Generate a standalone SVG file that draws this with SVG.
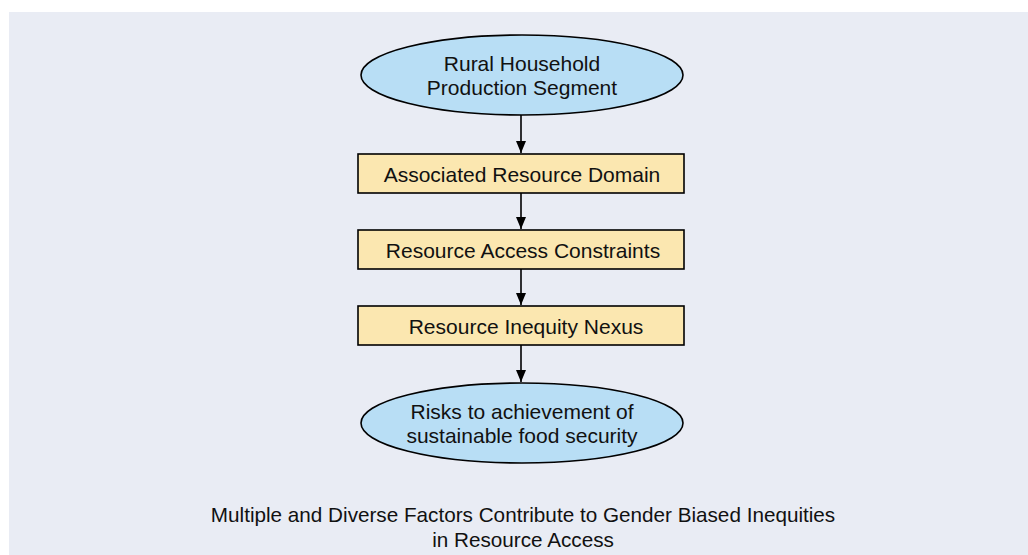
<svg xmlns="http://www.w3.org/2000/svg" width="1028" height="555" viewBox="0 0 1028 555">
<defs>
<marker id="ah" markerWidth="12" markerHeight="10" refX="12" refY="5" orient="auto" markerUnits="userSpaceOnUse" viewBox="0 0 12 10">
<path d="M0,0 L12,5 L0,10 Z" fill="#000"/>
</marker>
</defs>
<style>
.ell{fill:#b8def5;stroke:#000;stroke-width:1.6}
.box{fill:#fbe7b0;stroke:#000;stroke-width:1.6}
.t{font-family:"Liberation Sans",Arial,sans-serif;font-size:21px;fill:#111;text-anchor:middle}
.cap{font-family:"Liberation Sans",Arial,sans-serif;font-size:20.7px;fill:#111;text-anchor:middle}
.conn{stroke:#000;stroke-width:1.6;fill:none}
</style>
<rect x="9" y="12" width="1019" height="543" fill="#e9ecf4"/>
<g id="connectors">
<line class="conn" x1="521" y1="115" x2="521" y2="153" marker-end="url(#ah)"/>
<line class="conn" x1="521" y1="193" x2="521" y2="229" marker-end="url(#ah)"/>
<line class="conn" x1="521" y1="269" x2="521" y2="305" marker-end="url(#ah)"/>
<line class="conn" x1="521" y1="345" x2="521" y2="382" marker-end="url(#ah)"/>
</g>
<g id="node1">
<ellipse class="ell" cx="522" cy="75" rx="161" ry="40"/>
<text class="t" x="522" y="71">Rural Household</text>
<text class="t" x="522" y="95">Production Segment</text>
</g>
<g id="node2">
<rect class="box" x="358" y="154" width="326" height="39"/>
<text class="t" x="522" y="182">Associated Resource Domain</text>
</g>
<g id="node3">
<rect class="box" x="358" y="230" width="326" height="39"/>
<text class="t" x="523" y="258">Resource Access Constraints</text>
</g>
<g id="node4">
<rect class="box" x="358" y="306" width="326" height="39"/>
<text class="t" x="526" y="334">Resource Inequity Nexus</text>
</g>
<g id="node5">
<ellipse class="ell" cx="522" cy="423" rx="161" ry="40"/>
<text class="t" x="522" y="419">Risks to achievement of</text>
<text class="t" x="522" y="443">sustainable food security</text>
</g>
<g id="caption">
<text class="cap" x="523" y="522">Multiple and Diverse Factors Contribute to Gender Biased Inequities</text>
<text class="cap" x="523" y="547">in Resource Access</text>
</g>
</svg>
